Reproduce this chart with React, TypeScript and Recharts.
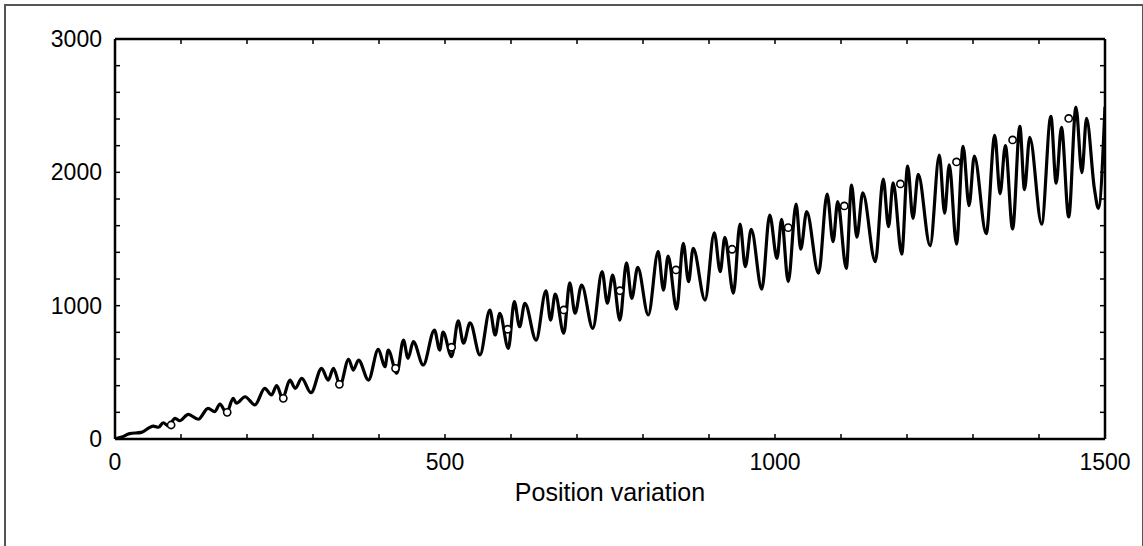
import { ComposedChart, Line, Scatter, XAxis, YAxis, Label } from "recharts";

const FONT = '"Liberation Sans", Arial, sans-serif';

const curveX = [
  0, 10, 22, 40, 58, 66, 73, 81, 91, 98, 111, 126, 141, 151, 159, 169, 179, 184, 197, 212,
  227, 237, 245, 254, 265, 273, 283, 297, 313, 323, 331, 341, 354, 361, 369, 384, 399, 409, 414, 427,
  437, 444, 452, 467, 484, 492, 497, 510, 520, 528, 538, 553, 568, 576, 583, 596, 605, 613, 621, 638,
  653, 660, 667, 680, 689, 697, 707, 724, 738, 746, 754, 765, 775, 783, 792, 808, 823, 831, 838, 851,
  861, 869, 876, 894, 908, 917, 924, 937, 947, 955, 964, 980, 992, 1003, 1010, 1020, 1032, 1039, 1048, 1066,
  1079, 1088, 1095, 1108, 1116, 1124, 1133, 1152, 1164, 1172, 1179, 1192, 1201, 1209, 1217, 1235, 1249, 1257, 1264, 1275,
  1285, 1294, 1302, 1320, 1333, 1341, 1349, 1360, 1371, 1378, 1386, 1404, 1418, 1426, 1434, 1445, 1456, 1465, 1472, 1484,
  1490, 1500,
];
const curveY = [
  0, 14, 40, 50, 97, 88, 122, 98, 155, 137, 185, 148, 230, 205, 262, 193, 305, 268, 317, 255,
  380, 330, 400, 305, 442, 380, 455, 347, 530, 442, 530, 405, 598, 517, 592, 442, 673, 542, 667, 493,
  742, 605, 730, 555, 817, 667, 802, 617, 887, 718, 872, 630, 967, 780, 943, 680, 1030, 842, 1018, 742,
  1112, 892, 1087, 793, 1172, 943, 1155, 830, 1255, 1018, 1230, 892, 1322, 1055, 1288, 930, 1405, 1117, 1372, 973,
  1468, 1180, 1430, 1042, 1547, 1255, 1513, 1093, 1612, 1292, 1573, 1123, 1680, 1355, 1648, 1180, 1762, 1423, 1705, 1243,
  1837, 1480, 1780, 1280, 1905, 1513, 1847, 1330, 1950, 1592, 1922, 1387, 2047, 1655, 1985, 1450, 2130, 1693, 2057, 1462,
  2195, 1751, 2122, 1540, 2278, 1840, 2200, 1576, 2345, 1870, 2263, 1612, 2420, 1918, 2338, 1665, 2490, 1997, 2404, 1875,
  1730, 2492,
];

const markerX = [85, 170, 255, 340, 425, 510, 595, 680, 765, 850, 935, 1020, 1105, 1190, 1275, 1360, 1445];
const markerY = [105, 200, 305, 410, 530, 688, 823, 968, 1112, 1268, 1423, 1585, 1748, 1913, 2078, 2243, 2404];

const xTicks = [0, 100, 200, 300, 400, 500, 600, 700, 800, 900, 1000, 1100, 1200, 1300, 1400, 1500];
const yTicks = [0, 200, 400, 600, 800, 1000, 1200, 1400, 1600, 1800, 2000, 2200, 2400, 2600, 2800, 3000];
const xLabels = [0, 500, 1000, 1500];
const yLabels = [0, 1000, 2000, 3000];

const curve = curveX.map((x, i) => ({ x, y: curveY[i] }));
const markers = markerX.map((x, i) => ({ x, y: markerY[i] }));

const tickStyle = { fill: "#000", fontSize: 23, fontFamily: FONT };
const frameLine = { stroke: "#000", strokeWidth: 2.5 };
const frameTick = { stroke: "#000", strokeWidth: 1.5 };
const blank = () => "";

function Ring(props: any) {
  return <circle cx={props.cx} cy={props.cy} r={3.6} fill="#fff" stroke="#000" strokeWidth={1.6} />;
}

export default function App() {
  return (
    <div style={{ position: "absolute", left: 0, top: 0, width: 1143, height: 546, background: "#fff", overflow: "hidden" }}>
      <div
        style={{
          position: "absolute", left: 4, top: 4, width: 1136, height: 600,
          borderLeft: "2px solid #555", borderTop: "2px solid #555", borderRight: "2px solid #555",
        }}
      />
      <div style={{ position: "absolute", left: 0, top: 0 }}>
        <ComposedChart
          width={1143}
          height={546}
          data={curve}
          margin={{ top: 39, right: 38, left: 55, bottom: 43 }}
          style={{ fontFamily: FONT }}
        >
          {/* labelled axes */}
          <XAxis
            xAxisId="bottom"
            dataKey="x"
            type="number"
            domain={[0, 1500]}
            ticks={xLabels}
            interval={0}
            allowDataOverflow
            height={64}
            axisLine={false}
            tickLine={false}
            tickSize={0}
            tickMargin={15}
            tick={tickStyle}
          >
            <Label value="Position variation" position="insideBottom" offset={2} fill="#000" fontSize={25} fontFamily={FONT} />
          </XAxis>
          <YAxis
            yAxisId="left"
            type="number"
            domain={[0, 3000]}
            ticks={yLabels}
            interval={0}
            allowDataOverflow
            width={60}
            axisLine={false}
            tickLine={false}
            tickSize={0}
            tickMargin={13}
            tick={tickStyle}
          />
          {/* frame with inward ticks */}
          <XAxis
            xAxisId="bottomFrame"
            dataKey="x"
            type="number"
            mirror
            domain={[0, 1500]}
            ticks={xTicks}
            interval={0}
            allowDataOverflow
            height={10}
            axisLine={frameLine}
            tickLine={frameTick}
            tickSize={5}
            tickFormatter={blank}
          />
          <XAxis
            xAxisId="top"
            orientation="top"
            dataKey="x"
            type="number"
            mirror
            domain={[0, 1500]}
            ticks={xTicks}
            interval={0}
            allowDataOverflow
            height={10}
            axisLine={frameLine}
            tickLine={frameTick}
            tickSize={5}
            tickFormatter={blank}
          />
          <YAxis
            yAxisId="leftFrame"
            type="number"
            mirror
            domain={[0, 3000]}
            ticks={yTicks}
            interval={0}
            allowDataOverflow
            width={10}
            axisLine={frameLine}
            tickLine={frameTick}
            tickSize={5}
            tickFormatter={blank}
          />
          <YAxis
            yAxisId="right"
            orientation="right"
            type="number"
            mirror
            domain={[0, 3000]}
            ticks={yTicks}
            interval={0}
            allowDataOverflow
            width={10}
            axisLine={frameLine}
            tickLine={frameTick}
            tickSize={5}
            tickFormatter={blank}
          />
          <Line
            xAxisId="bottomFrame"
            yAxisId="leftFrame"
            type="monotone"
            dataKey="y"
            stroke="none"
            dot={false}
            activeDot={false}
            isAnimationActive={false}
          />
          <Line
            xAxisId="bottom"
            yAxisId="left"
            type="monotone"
            dataKey="y"
            stroke="#000"
            strokeWidth={3.2}
            dot={false}
            activeDot={false}
            isAnimationActive={false}
          />
          <Scatter
            xAxisId="top"
            yAxisId="right"
            data={markers}
            dataKey="y"
            shape={<Ring />}
            isAnimationActive={false}
          />
        </ComposedChart>
      </div>
    </div>
  );
}
